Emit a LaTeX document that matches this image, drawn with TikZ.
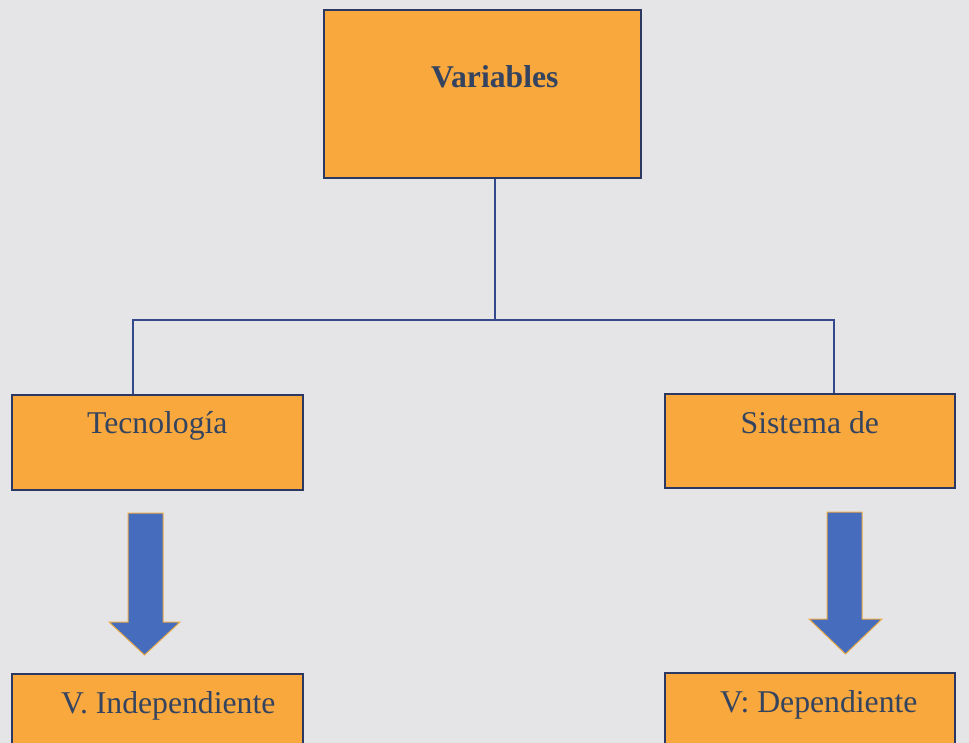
\documentclass[tikz,border=0pt]{standalone}
\usepackage{fontspec}
\setmainfont{Liberation Serif}
\begin{document}
\begin{tikzpicture}[x=1pt,y=-1pt,
  box/.style={draw=boxline, line width=1.6pt, fill=boxfill, inner sep=0pt,
    font=\fontsize{31.7}{33}\selectfont, text=txt, anchor=north west},
  conn/.style={draw=connc, line width=1.5pt},
  blockarrow/.style={fill=arrowc, draw=arrowedge, line width=1pt, line join=miter}]
\definecolor{bgc}{RGB}{229,229,231}
\definecolor{boxfill}{RGB}{248,168,60}
\definecolor{boxline}{RGB}{44,56,100}
\definecolor{txt}{RGB}{52,68,96}
\definecolor{connc}{RGB}{52,72,140}
\definecolor{arrowc}{RGB}{70,108,190}
\definecolor{arrowedge}{RGB}{235,170,70}
\useasboundingbox (0,0) rectangle (969,743);
\clip (0,0) rectangle (969,743);
\fill[bgc] (0,0) rectangle (969,743);
\node[box, minimum width=317pt, text height=78pt, text depth=90pt, font=\fontsize{31.7}{33}\selectfont\bfseries] (var) at (323,9) {\hspace*{25pt}Variables};
\node[box, minimum width=291pt, text height=39pt, text depth=56pt] (tec) at (11,394) {Tecnología};
\node[box, minimum width=290pt, text height=40pt, text depth=54pt] (sis) at (664,393) {Sistema de};
\node[box, minimum width=291pt, text height=40pt, text depth=70pt] (ind) at (11,673) {\hspace*{22pt}V. Independiente};
\node[box, minimum width=290pt, text height=40pt, text depth=70pt] (dep) at (664,672) {\hspace*{18pt}V: Dependiente};
\coordinate (j) at (495,320);
\coordinate (tl) at ([xshift=-24.5pt]tec.north);
\coordinate (sr) at ([xshift=24pt]sis.north);
\draw[conn] (var.south -| j) -- (j);
\draw[conn] (tl) |- (j) -| (sr);
\draw[blockarrow] (128,513) -- (163,513) -- (163,622) -- (180,622) -- (144.5,655) -- (109,622) -- (128,622) -- cycle;
\draw[blockarrow] (827,512) -- (862,512) -- (862,619) -- (882,619) -- (845.5,654) -- (809,619) -- (827,619) -- cycle;
\end{tikzpicture}
\end{document}
